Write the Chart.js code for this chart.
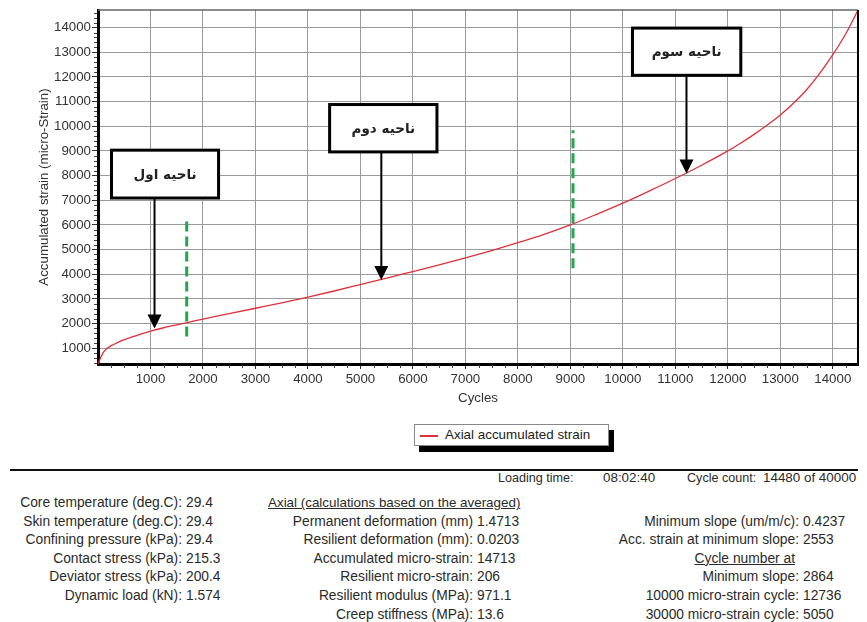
<!DOCTYPE html>
<html>
<head>
<meta charset="utf-8">
<script src="https://cdn.jsdelivr.net/npm/chart.js@4.4.1/dist/chart.umd.min.js"></script>
<style>
  body { margin: 0; background: #fff; }
  #wrap { position: relative; width: 867px; height: 622px; overflow: hidden; font-family: 'Liberation Sans', Arial, sans-serif; color: #2a2a2a; }
  #chart { position: absolute; left: 0; top: 0; }
  .t { position: absolute; font-size: 13.8px; line-height: 16px; white-space: nowrap; }
  .h { font-size: 13.4px; }
  .s { font-size: 12.6px; }
  .u { text-decoration: underline; }
  #legend { position: absolute; left: 414px; top: 424px; width: 193px; height: 20px; border: 1px solid #888; background: #fff; box-shadow: 5px 6px 0 #000; }
  #legend .swatch { position: absolute; left: 5px; top: 10px; width: 18px; height: 1.5px; background: #e0303a; }
  #legend .lbl { position: absolute; left: 30px; top: 2px; font-size: 13.4px; line-height: 16px; color: #222; }
  #rule { position: absolute; left: 10px; top: 469px; width: 848px; height: 2px; background: #111; }
</style>
</head>
<body>
<div id="wrap">
  <canvas id="chart" width="867" height="410"></canvas>
  <div id="legend"><div class="swatch"></div><div class="lbl">Axial accumulated strain</div></div>
  <div id="rule"></div>
</div>
<script>
// ---- curve data ----
const cycles = [0, 15, 50, 92, 150, 219, 300, 410, 520, 663, 800, 1000, 1250, 1500, 1700, 2000, 2500, 3000, 3500, 4000,
  4500, 5000, 5500, 6000, 6500, 7000, 7500, 8000, 8500, 9000, 9500, 10000, 10500, 11000, 11500, 12000, 12250, 12500,
  12750, 13000, 13250, 13500, 13750, 14000, 14250, 14480];
const strain = [370, 420, 620, 800, 950, 1065, 1150, 1267, 1360, 1470, 1560, 1690, 1830, 1950, 2040, 2180, 2400, 2620, 2840, 3070,
  3320, 3580, 3840, 4110, 4380, 4660, 4960, 5280, 5620, 6000, 6430, 6880, 7370, 7880, 8420, 9000, 9320, 9670,
  10050, 10460, 10930, 11480, 12140, 12900, 13760, 14713];

const xTicks = [1000, 2000, 3000, 4000, 5000, 6000, 7000, 8000, 9000, 10000, 11000, 12000, 13000, 14000];
const yTicks = [1000, 2000, 3000, 4000, 5000, 6000, 7000, 8000, 9000, 10000, 11000, 12000, 13000, 14000];

// region boundaries (green dashed)
const boundX = [1690, 9050];
const boundLow = [1470, 4240];
const boundHigh = [6330, 9840];

// region call-outs
const regionNames = ['ناحیه اول', 'ناحیه دوم', 'ناحیه سوم'];
const boxLeft = [257, 4413, 10183];
const boxRight = [2297, 6458, 12247];
const boxTop = [9030, 10880, 13980];
const boxBottom = [7090, 8960, 12065];
const arrowX = [1077, 5398, 11212];
const arrowTip = [1800, 3770, 8085];

const xMax = 14480, yMin = 360, yMax = 14713;

// ---- info panel text ----
const leftLabels = ['Core temperature (deg.C):', 'Skin temperature (deg.C):', 'Confining pressure (kPa):',
  'Contact stress (kPa):', 'Deviator stress (kPa):', 'Dynamic load (kN):'];
const leftValues = ['29.4', '29.4', '29.4', '215.3', '200.4', '1.574'];
const midLabels = ['Permanent deformation (mm)', 'Resilient deformation (mm):', 'Accumulated micro-strain:',
  'Resilient micro-strain:', 'Resilient modulus (MPa):', 'Creep stiffness (MPa):'];
const midValues = ['1.4713', '0.0203', '14713', '206', '971.1', '13.6'];
const rightLabels = ['Minimum slope (um/m/c):', 'Acc. strain at minimum slope:', 'Cycle number at',
  'Minimum slope:', '10000 micro-strain cycle:', '30000 micro-strain cycle:'];
const rightValues = ['0.4237', '2553', '', '2864', '12736', '5050'];

Chart.defaults.font.family = "'Liberation Sans', Arial, sans-serif";
Chart.defaults.color = '#333';

const overlay = {
  id: 'overlay',
  afterDatasetsDraw(chart) {
    const { ctx, chartArea: a, scales: { x, y } } = chart;
    ctx.save();
    // top and right frame
    ctx.strokeStyle = '#666'; ctx.lineWidth = 1.5;
    ctx.beginPath(); ctx.moveTo(a.left, a.top); ctx.lineTo(a.right, a.top); ctx.stroke();
    ctx.strokeStyle = '#000'; ctx.lineWidth = 2;
    ctx.beginPath(); ctx.moveTo(a.right, a.top); ctx.lineTo(a.right, a.bottom + 1); ctx.stroke();

    // minor ticks
    ctx.strokeStyle = '#444'; ctx.lineWidth = 1;
    ctx.beginPath();
    for (let v = 250; v < xMax; v += 250) {
      if (v % 1000 === 0) continue;
      const px = Math.round(x.getPixelForValue(v)) + 0.5;
      ctx.moveTo(px, a.bottom + 1); ctx.lineTo(px, a.bottom + 4);
    }
    for (let v = 400; v < yMax; v += 200) {
      if (v % 1000 === 0) continue;
      const py = Math.round(y.getPixelForValue(v)) + 0.5;
      ctx.moveTo(a.left - 1, py); ctx.lineTo(a.left - 4, py);
    }
    ctx.stroke();

    // call-out boxes with arrows
    regionNames.forEach((name, i) => {
      const l = x.getPixelForValue(boxLeft[i]), r = x.getPixelForValue(boxRight[i]);
      const t = y.getPixelForValue(boxTop[i]), b = y.getPixelForValue(boxBottom[i]);
      const ax = x.getPixelForValue(arrowX[i]), tip = y.getPixelForValue(arrowTip[i]);
      ctx.strokeStyle = '#000'; ctx.fillStyle = '#000';
      ctx.lineWidth = 2;
      ctx.beginPath(); ctx.moveTo(ax, b); ctx.lineTo(ax, tip - 12); ctx.stroke();
      ctx.beginPath(); ctx.moveTo(ax - 7, tip - 14); ctx.lineTo(ax + 7, tip - 14); ctx.lineTo(ax, tip); ctx.closePath(); ctx.fill();
      ctx.fillStyle = '#fff';
      ctx.fillRect(l, t, r - l, b - t);
      ctx.lineWidth = 3;
      ctx.strokeRect(l, t, r - l, b - t);
      ctx.fillStyle = '#222';
      ctx.font = "bold 13.5px 'DejaVu Sans', sans-serif";
      ctx.textAlign = 'center'; ctx.textBaseline = 'middle';
      ctx.fillText(name, (l + r) / 2, (t + b) / 2 + 1);
    });
    ctx.restore();
  }
};

const datasets = [{
  label: 'Axial accumulated strain',
  data: cycles.map((c, i) => ({ x: c, y: strain[i] })),
  borderColor: '#e0303a',
  borderWidth: 1.3,
  pointRadius: 0,
  cubicInterpolationMode: 'monotone',
}];
boundX.forEach((bx, i) => {
  datasets.push({
    label: 'boundary ' + (i + 1),
    data: [{ x: bx, y: boundLow[i] }, { x: bx, y: boundHigh[i] }],
    borderColor: '#1fa84c',
    borderWidth: 3,
    borderDash: [10, 5],
    pointRadius: 0,
  });
});

new Chart(document.getElementById('chart'), {
  type: 'line',
  data: { datasets },
  options: {
    responsive: false,
    animation: false,
    devicePixelRatio: 1,
    layout: { padding: { top: 10, right: 9, left: 0, bottom: 0 } },
    plugins: { legend: { display: false }, tooltip: { enabled: false } },
    scales: {
      x: {
        type: 'linear', min: 0, max: xMax,
        afterFit: s => { s.height = 46; },
        afterBuildTicks: s => { s.ticks = xTicks.map(v => ({ value: v })); },
        ticks: { autoSkip: false, maxRotation: 0, padding: 2, color: '#333', font: { size: 13.3 }, callback: v => String(v) },
        grid: { color: '#9a9a9a', lineWidth: 1, tickColor: '#333', tickLength: 5 },
        border: { color: '#000', width: 3 },
        title: { display: true, text: 'Cycles', color: '#333', font: { size: 13.3 }, padding: { top: 0, bottom: 4 } },
      },
      y: {
        type: 'linear', min: yMin, max: yMax,
        afterFit: s => { s.width = 98; },
        afterBuildTicks: s => { s.ticks = yTicks.map(v => ({ value: v })); },
        ticks: { autoSkip: false, padding: 1, color: '#333', font: { size: 13.3 }, callback: v => String(v) },
        grid: { color: '#9a9a9a', lineWidth: 1, tickColor: '#333', tickLength: 6 },
        border: { color: '#000', width: 3 },
        title: { display: true, text: 'Accumulated strain (micro-Strain)', color: '#333', font: { size: 13.3 }, padding: { top: 36, bottom: 0 } },
      },
    },
  },
  plugins: [overlay],
});

// ---- info panel ----
const wrap = document.getElementById('wrap');
function txt(s, x, y, cls) {
  const d = document.createElement('div');
  d.className = 't ' + (cls || '');
  d.textContent = s;
  d.style.top = (y - 8) + 'px';
  if (cls && cls.split(' ').includes('r')) d.style.right = (867 - x) + 'px';
  else d.style.left = x + 'px';
  wrap.appendChild(d);
}
const rowY = i => 503 + i * 18.6;

txt('Loading time:', 498, 478, 's');
txt('08:02:40', 603, 478, 'h');
txt('Cycle count:', 687, 478, 's');
txt('14480 of 40000', 763, 478, 'h');

leftLabels.forEach((s, i) => { txt(s, 182, rowY(i), 'r'); txt(leftValues[i], 186, rowY(i)); });
txt('Axial (calculations based on the averaged)', 268, rowY(0), 'u h');
midLabels.forEach((s, i) => { txt(s, 473, rowY(i + 1), 'r'); txt(midValues[i], 477, rowY(i + 1)); });
rightLabels.forEach((s, i) => {
  if (rightValues[i] === '') { txt(s, 795, rowY(i + 1), 'r u'); return; }
  txt(s, 799, rowY(i + 1), 'r');
  txt(rightValues[i], 803, rowY(i + 1));
});
</script>
</body>
</html>
